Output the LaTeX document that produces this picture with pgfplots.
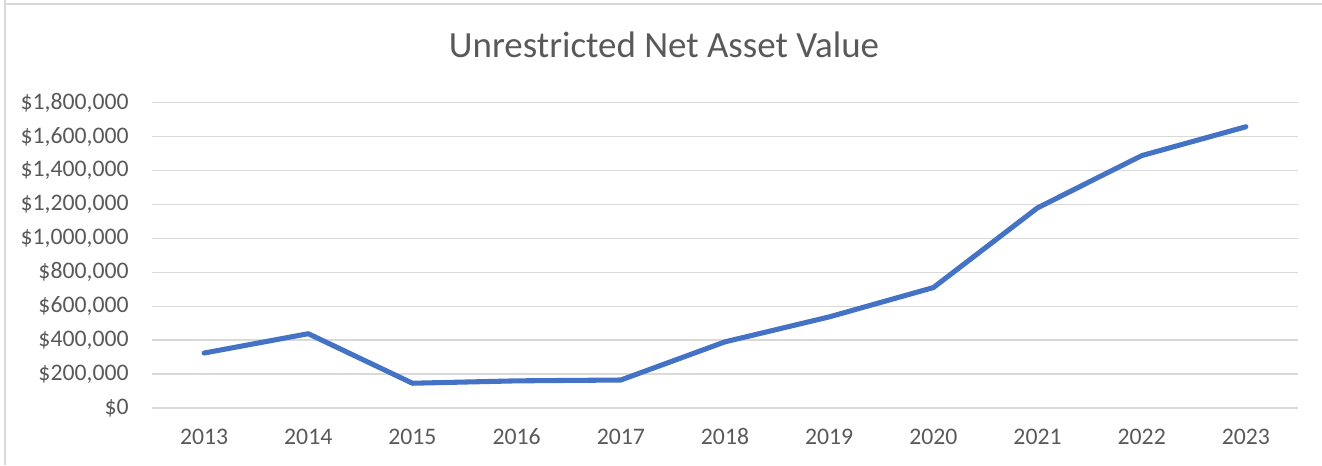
\documentclass[border=0pt]{standalone}
\usepackage{pgfplots}
\pgfplotsset{compat=1.18}
\usepackage{fontspec}
\setmainfont{Carlito}
\definecolor{xlblue}{HTML}{4472C4}
\definecolor{xlgrid}{HTML}{D9D9D9}
\definecolor{xltext}{HTML}{595959}
\begin{document}
\begin{tikzpicture}
\path[use as bounding box] (0,0) rectangle (991.5pt,348.75pt);
\draw[xlgrid,line width=1.5pt] (3.75pt,348.75pt) -- (3.75pt,345.75pt) -- (991.5pt,345.75pt);
\draw[xlgrid,line width=1.5pt] (3.75pt,0pt) -- (3.75pt,345.75pt);
\node[anchor=base, text=xltext, font=\fontsize{27.7}{32}\selectfont, inner sep=0pt] at (498pt,305.25pt) {Unrestricted Net Asset Value};
\coordinate (A) at (114pt,42.75pt);
\begin{axis}[
  at={(A)}, anchor=south west,
  scale only axis, width=859.5pt, height=229pt,
  xmin=-0.5, xmax=10.5, ymin=0, ymax=1800000,
  ytick={0,200000,...,1800000},
  xtick={0,...,10},
  xticklabels={2013,2014,2015,2016,2017,2018,2019,2020,2021,2022,2023},
  yticklabel={\$\pgfmathprintnumber[fixed,1000 sep={,},precision=0]{\tick}},
  scaled y ticks=false,
  /pgf/number format/assume math mode=true,
  ymajorgrids, grid style={xlgrid,line width=1pt},
  axis line style={draw=none},
  major tick length=0pt,
  axis x line*=bottom,
  x axis line style={xlgrid,line width=1pt},
  ticklabel style={font=\fontsize{17.8}{20}\selectfont, text=xltext},
  yticklabel style={xshift=-14pt},
  xticklabel style={yshift=-12pt},
  clip=false,
]
\addplot[xlblue, line width=3.8pt, line join=round, line cap=round] coordinates {
(0,324000) (1,438000) (2,146000) (3,160000) (4,165000) (5,390000) (6,537000) (7,710000) (8,1180000) (9,1488000) (10,1658000)
};
\end{axis}
\end{tikzpicture}
\end{document}
